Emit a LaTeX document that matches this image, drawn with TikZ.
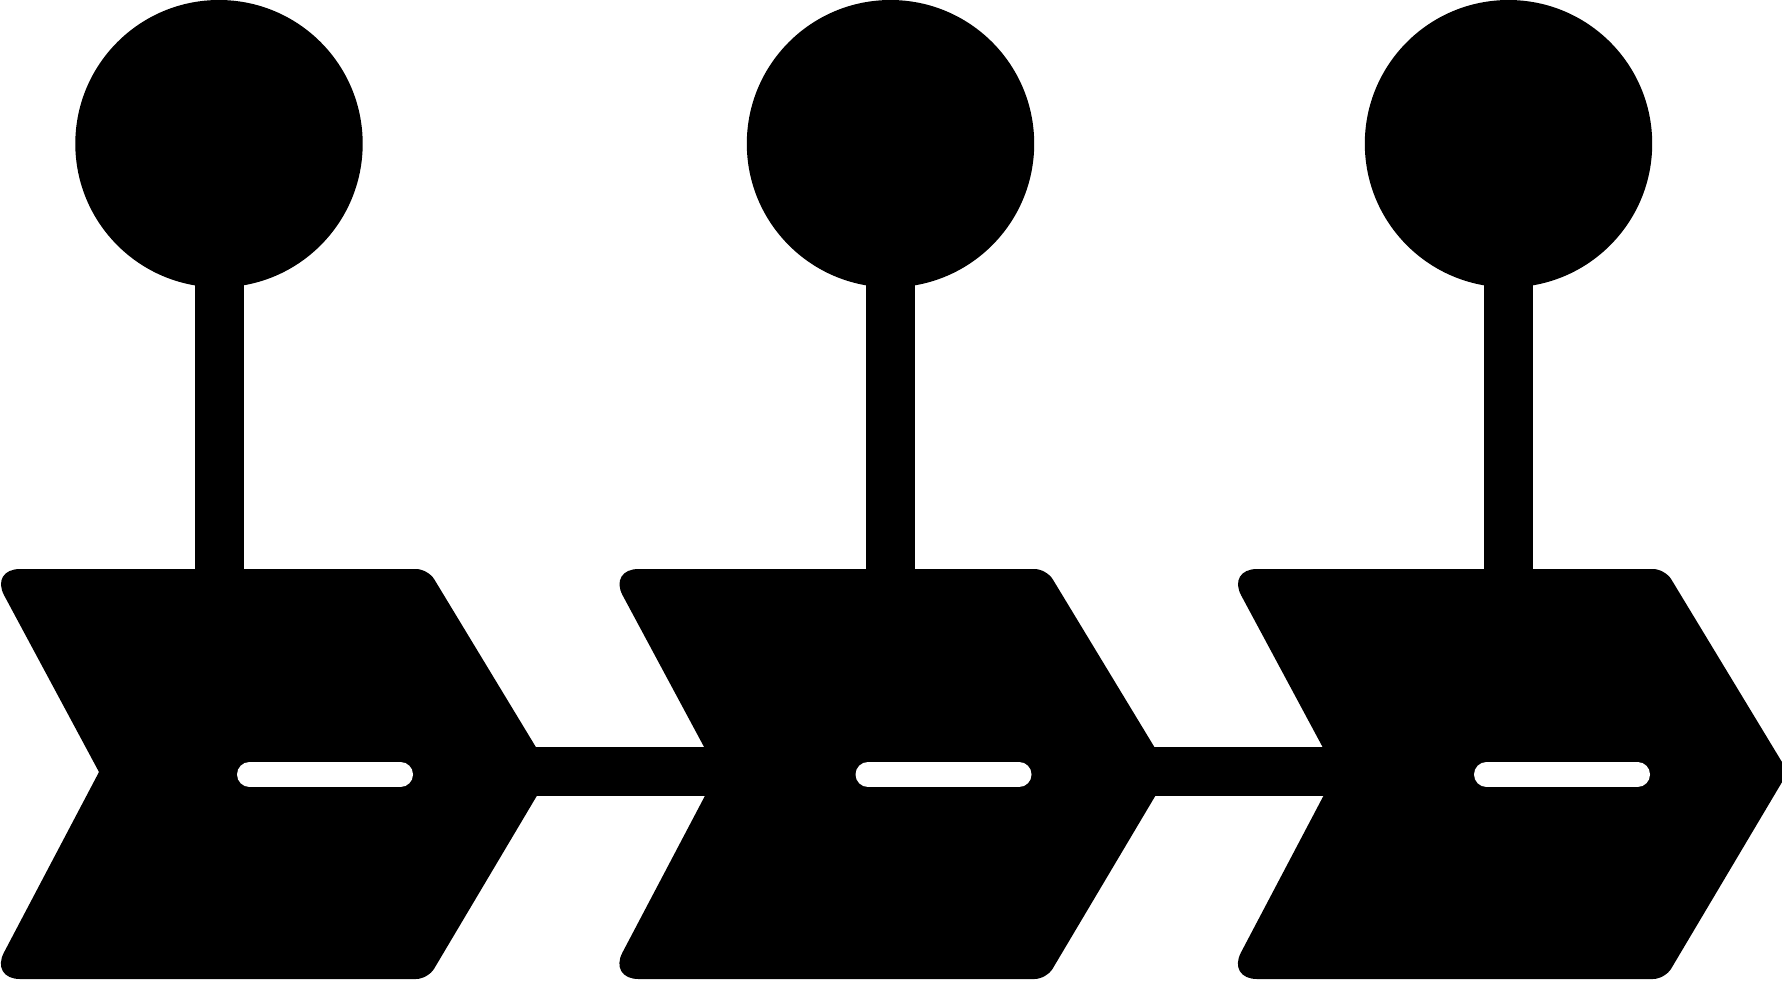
\documentclass[tikz,border=0pt]{standalone}
\begin{document}
\begin{tikzpicture}[x=1pt,y=-1pt,
  ink/.style={fill=black,draw=none},
  slot/.style={draw=white,line width=25pt,line cap=round}]
\useasboundingbox (0,0) rectangle (1782,980);
\clip (0,0) rectangle (1782,980);
% connecting bar
\fill[ink] (480,747) rectangle (1400,796);
% arrow-shaped boxes with slots
\foreach \o in {0,618.5,1237}{
  \fill[ink] ({\o+99},772) [rounded corners=30pt] -- ({\o-10},569) [rounded corners=12pt] -- ({\o+428},569)
     -- ({\o+551},772) -- ({\o+428},979) [rounded corners=30pt] -- ({\o-10},979) -- ({\o+99},772);
  \draw[slot] ({\o+249.5},774.5) -- ({\o+400.5},774.5);
}
% pins
\foreach \c in {219,890.5,1508.5}{
  \fill[ink] (\c,143.7) circle[radius=143.7];
  \fill[ink] ({\c-24.5},250) rectangle ({\c+24.5},575);
}
\end{tikzpicture}
\end{document}
